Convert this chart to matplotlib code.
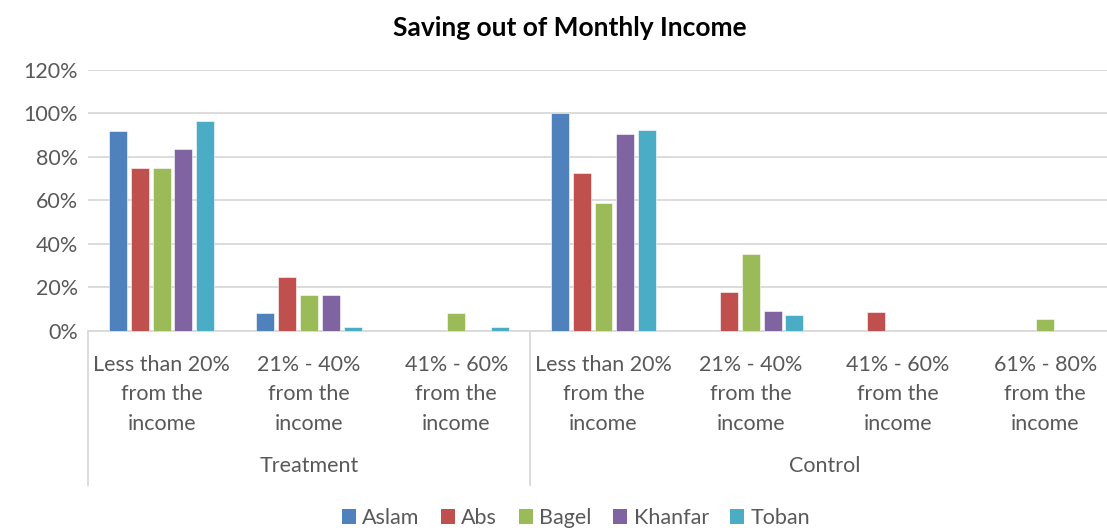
import numpy as np
import matplotlib
matplotlib.use("Agg")
import matplotlib.pyplot as plt
from matplotlib.patches import Patch
import matplotlib.transforms as mtransforms

# data
groups = ["Treatment", "Control"]
categories = ["Less than 20%\nfrom the\nincome", "21% - 40%\nfrom the\nincome", "41% - 60%\nfrom the\nincome",
              "Less than 20%\nfrom the\nincome", "21% - 40%\nfrom the\nincome", "41% - 60%\nfrom the\nincome",
              "61% - 80%\nfrom the\nincome"]
group_sizes = [3, 4]
series = ["Aslam", "Abs", "Bagel", "Khanfar", "Toban"]
aslam = [0.917, 0.083, 0.0, 1.000, 0.0, 0.0, 0.0]
abs_ = [0.750, 0.250, 0.0, 0.725, 0.179, 0.088, 0.0]
bagel = [0.750, 0.167, 0.083, 0.588, 0.353, 0.0, 0.055]
khanfar = [0.833, 0.167, 0.0, 0.902, 0.092, 0.0, 0.0]
toban = [0.962, 0.017, 0.017, 0.922, 0.073, 0.0, 0.0]
colors = ["#4F81BD", "#C0504D", "#9BBB59", "#8064A2", "#4BACC6"]

plt.rcParams['font.family'] = ['Lato', 'DejaVu Sans']
txt = "#595959"
fs = 15.5

fig = plt.figure(figsize=(11.07, 5.28), dpi=100)
W, H = 1107.0, 528.0
ax = fig.add_axes([88 / W, (H - 331) / H, (1119 - 88) / W, (331 - 69.5) / H])

x = np.arange(len(categories))
pitch = 0.148
bw = 0.122
for i, (vals, c) in enumerate(zip([aslam, abs_, bagel, khanfar, toban], colors)):
    ax.bar(x + (i - 2) * pitch, vals, bw, color=c, edgecolor="white", linewidth=0.4, zorder=3)

ax.set_xlim(-0.5, len(categories) - 0.5)
ax.set_ylim(0, 1.2)
ax.set_yticks(np.arange(0, 1.21, 0.2))
ax.set_yticklabels(["%d%%" % round(v * 100) for v in np.arange(0, 1.21, 0.2)], color=txt, fontsize=fs)
ax.yaxis.grid(True, color="#D9D9D9", linewidth=1.3, zorder=0)
ax.tick_params(axis="y", length=0, pad=7)
for s in ["top", "right", "left"]:
    ax.spines[s].set_visible(False)
ax.spines["bottom"].set_color("#D9D9D9")
ax.spines["bottom"].set_linewidth(1.3)

ax.set_xticks(x)
ax.set_xticklabels(categories, color=txt, fontsize=fs, linespacing=1.6)
ax.tick_params(axis="x", length=0, pad=17)

# group labels and separators
trans = mtransforms.blended_transform_factory(ax.transData, ax.transAxes)
bounds = np.concatenate([[0], np.cumsum(group_sizes)]) - 0.5
for b in bounds:
    ax.plot([b, b], [0, -0.589], transform=trans, color="#D9D9D9", linewidth=1.3, clip_on=False)
for g, lo, hi in zip(groups, bounds[:-1], bounds[1:]):
    ax.text((lo + hi) / 2, -0.518, g, transform=trans, ha="center", va="center", color=txt, fontsize=fs)

fig.text(570 / W, 1 - 28 / H, "Saving out of Monthly Income", ha="center", va="center",
         fontsize=19, fontweight="bold", color="black")

handles = [Patch(facecolor=c, label=s) for s, c in zip(series, colors)]
fig.legend(handles=handles, loc="center", bbox_to_anchor=(576 / W, 1 - 518 / H), ncol=5, frameon=False,
           handlelength=0.65, handleheight=0.65, handletextpad=0.3, columnspacing=1.0,
           fontsize=fs, labelcolor=txt)

fig.savefig("out.png", dpi=100)
